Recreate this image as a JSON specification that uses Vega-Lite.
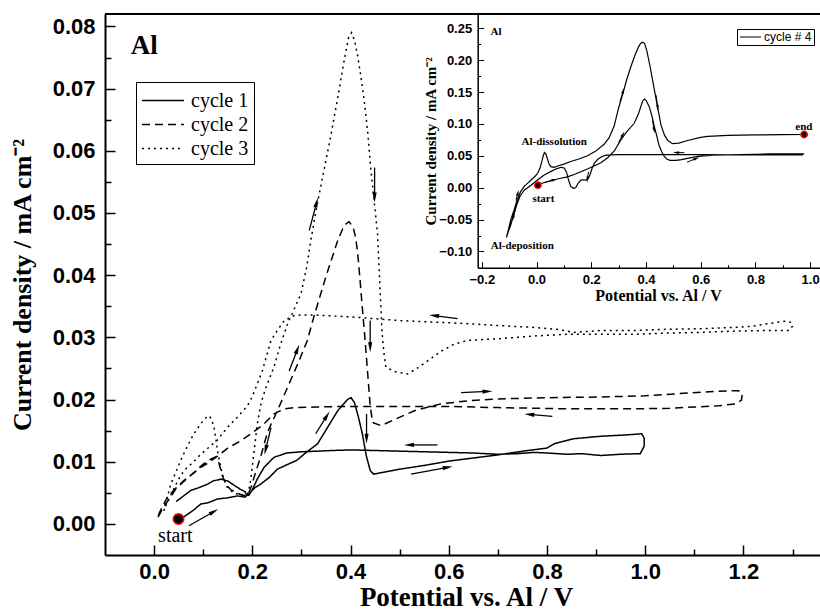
{
"$schema":"https://vega.github.io/schema/vega-lite/v6.json",
"width":715,"height":541,
"autosize":"none",
"padding":{"left":105,"top":14,"right":0,"bottom":56},
"background":"white",
"config":{"view":{"stroke":null},"axis":{"grid":false,"domainColor":"black","tickColor":"black","labelColor":"black","titleColor":"black"}},
"datasets":{
"main":[
{"s":"cycle 1","x":0.05,"y":0.0008},{"s":"cycle 1","x":0.06,"y":0.0011},{"s":"cycle 1","x":0.08,"y":0.0022},{"s":"cycle 1","x":0.095,"y":0.0032},{"s":"cycle 1","x":0.11,"y":0.0034},{"s":"cycle 1","x":0.129,"y":0.004},{"s":"cycle 1","x":0.15,"y":0.0042},{"s":"cycle 1","x":0.17,"y":0.0045},{"s":"cycle 1","x":0.185,"y":0.0043},{"s":"cycle 1","x":0.195,"y":0.005},{"s":"cycle 1","x":0.205,"y":0.0058},{"s":"cycle 1","x":0.217,"y":0.0064},{"s":"cycle 1","x":0.235,"y":0.0075},{"s":"cycle 1","x":0.251,"y":0.0088},{"s":"cycle 1","x":0.27,"y":0.0095},{"s":"cycle 1","x":0.29,"y":0.0102},{"s":"cycle 1","x":0.31,"y":0.0115},{"s":"cycle 1","x":0.333,"y":0.0129},{"s":"cycle 1","x":0.353,"y":0.0155},{"s":"cycle 1","x":0.374,"y":0.0182},{"s":"cycle 1","x":0.394,"y":0.02},{"s":"cycle 1","x":0.401,"y":0.0203},{"s":"cycle 1","x":0.408,"y":0.0195},{"s":"cycle 1","x":0.416,"y":0.0172},{"s":"cycle 1","x":0.424,"y":0.0145},{"s":"cycle 1","x":0.432,"y":0.011},{"s":"cycle 1","x":0.44,"y":0.0086},{"s":"cycle 1","x":0.447,"y":0.008},{"s":"cycle 1","x":0.46,"y":0.0082},{"s":"cycle 1","x":0.5,"y":0.0088},{"s":"cycle 1","x":0.55,"y":0.0094},{"s":"cycle 1","x":0.6,"y":0.0101},{"s":"cycle 1","x":0.65,"y":0.0106},{"s":"cycle 1","x":0.7,"y":0.0111},{"s":"cycle 1","x":0.76,"y":0.0118},{"s":"cycle 1","x":0.8,"y":0.0122},{"s":"cycle 1","x":0.815,"y":0.0129},{"s":"cycle 1","x":0.855,"y":0.0137},{"s":"cycle 1","x":0.91,"y":0.0141},{"s":"cycle 1","x":0.96,"y":0.0143},{"s":"cycle 1","x":0.993,"y":0.0145},{"s":"cycle 1","x":0.998,"y":0.0138},{"s":"cycle 1","x":0.998,"y":0.0125},{"s":"cycle 1","x":0.99,"y":0.0113},{"s":"cycle 1","x":0.95,"y":0.0112},{"s":"cycle 1","x":0.91,"y":0.011},{"s":"cycle 1","x":0.87,"y":0.0113},{"s":"cycle 1","x":0.842,"y":0.0112},{"s":"cycle 1","x":0.8,"y":0.0114},{"s":"cycle 1","x":0.774,"y":0.0115},{"s":"cycle 1","x":0.74,"y":0.0113},{"s":"cycle 1","x":0.7,"y":0.0112},{"s":"cycle 1","x":0.65,"y":0.0114},{"s":"cycle 1","x":0.6,"y":0.0115},{"s":"cycle 1","x":0.55,"y":0.0116},{"s":"cycle 1","x":0.5,"y":0.0117},{"s":"cycle 1","x":0.45,"y":0.0118},{"s":"cycle 1","x":0.4,"y":0.0119},{"s":"cycle 1","x":0.36,"y":0.0118},{"s":"cycle 1","x":0.333,"y":0.0117},{"s":"cycle 1","x":0.3,"y":0.0116},{"s":"cycle 1","x":0.27,"y":0.0114},{"s":"cycle 1","x":0.244,"y":0.0107},{"s":"cycle 1","x":0.224,"y":0.0091},{"s":"cycle 1","x":0.21,"y":0.0072},{"s":"cycle 1","x":0.2,"y":0.0055},{"s":"cycle 1","x":0.193,"y":0.0046},{"s":"cycle 1","x":0.188,"y":0.0047},{"s":"cycle 1","x":0.185,"y":0.0052},{"s":"cycle 1","x":0.177,"y":0.0055},{"s":"cycle 1","x":0.165,"y":0.0061},{"s":"cycle 1","x":0.15,"y":0.0069},{"s":"cycle 1","x":0.136,"y":0.0072},{"s":"cycle 1","x":0.12,"y":0.0069},{"s":"cycle 1","x":0.109,"y":0.0064},{"s":"cycle 1","x":0.09,"y":0.0058},{"s":"cycle 1","x":0.075,"y":0.0054},{"s":"cycle 1","x":0.055,"y":0.0042},{"s":"cycle 1","x":0.045,"y":0.0036},
{"s":"cycle 2","x":0.008,"y":0.0011},{"s":"cycle 2","x":0.02,"y":0.0028},{"s":"cycle 2","x":0.035,"y":0.0045},{"s":"cycle 2","x":0.044,"y":0.0056},{"s":"cycle 2","x":0.06,"y":0.0068},{"s":"cycle 2","x":0.08,"y":0.0082},{"s":"cycle 2","x":0.1,"y":0.0096},{"s":"cycle 2","x":0.115,"y":0.0104},{"s":"cycle 2","x":0.126,"y":0.0108},{"s":"cycle 2","x":0.132,"y":0.0098},{"s":"cycle 2","x":0.139,"y":0.0077},{"s":"cycle 2","x":0.148,"y":0.0062},{"s":"cycle 2","x":0.156,"y":0.0055},{"s":"cycle 2","x":0.168,"y":0.005},{"s":"cycle 2","x":0.18,"y":0.0046},{"s":"cycle 2","x":0.19,"y":0.0045},{"s":"cycle 2","x":0.197,"y":0.0058},{"s":"cycle 2","x":0.204,"y":0.0076},{"s":"cycle 2","x":0.217,"y":0.0108},{"s":"cycle 2","x":0.231,"y":0.0148},{"s":"cycle 2","x":0.251,"y":0.0182},{"s":"cycle 2","x":0.278,"y":0.0231},{"s":"cycle 2","x":0.295,"y":0.0262},{"s":"cycle 2","x":0.312,"y":0.0295},{"s":"cycle 2","x":0.326,"y":0.0335},{"s":"cycle 2","x":0.35,"y":0.0398},{"s":"cycle 2","x":0.374,"y":0.0456},{"s":"cycle 2","x":0.387,"y":0.048},{"s":"cycle 2","x":0.397,"y":0.0486},{"s":"cycle 2","x":0.405,"y":0.0478},{"s":"cycle 2","x":0.41,"y":0.0462},{"s":"cycle 2","x":0.414,"y":0.044},{"s":"cycle 2","x":0.418,"y":0.0405},{"s":"cycle 2","x":0.424,"y":0.0348},{"s":"cycle 2","x":0.43,"y":0.0292},{"s":"cycle 2","x":0.435,"y":0.0241},{"s":"cycle 2","x":0.44,"y":0.019},{"s":"cycle 2","x":0.445,"y":0.0163},{"s":"cycle 2","x":0.462,"y":0.0158},{"s":"cycle 2","x":0.49,"y":0.0168},{"s":"cycle 2","x":0.53,"y":0.0182},{"s":"cycle 2","x":0.584,"y":0.0193},{"s":"cycle 2","x":0.64,"y":0.0198},{"s":"cycle 2","x":0.7,"y":0.0201},{"s":"cycle 2","x":0.8,"y":0.0203},{"s":"cycle 2","x":0.9,"y":0.0204},{"s":"cycle 2","x":1.0,"y":0.0206},{"s":"cycle 2","x":1.06,"y":0.0209},{"s":"cycle 2","x":1.12,"y":0.0212},{"s":"cycle 2","x":1.17,"y":0.0214},{"s":"cycle 2","x":1.19,"y":0.0214},{"s":"cycle 2","x":1.198,"y":0.021},{"s":"cycle 2","x":1.196,"y":0.0199},{"s":"cycle 2","x":1.185,"y":0.0193},{"s":"cycle 2","x":1.15,"y":0.019},{"s":"cycle 2","x":1.1,"y":0.0188},{"s":"cycle 2","x":1.05,"y":0.0186},{"s":"cycle 2","x":0.98,"y":0.0185},{"s":"cycle 2","x":0.9,"y":0.0185},{"s":"cycle 2","x":0.84,"y":0.0185},{"s":"cycle 2","x":0.78,"y":0.0186},{"s":"cycle 2","x":0.7,"y":0.0187},{"s":"cycle 2","x":0.6,"y":0.0189},{"s":"cycle 2","x":0.5,"y":0.0189},{"s":"cycle 2","x":0.4,"y":0.0189},{"s":"cycle 2","x":0.33,"y":0.0188},{"s":"cycle 2","x":0.285,"y":0.0187},{"s":"cycle 2","x":0.265,"y":0.0185},{"s":"cycle 2","x":0.244,"y":0.0177},{"s":"cycle 2","x":0.22,"y":0.0158},{"s":"cycle 2","x":0.197,"y":0.0145},{"s":"cycle 2","x":0.177,"y":0.0134},{"s":"cycle 2","x":0.15,"y":0.0122},{"s":"cycle 2","x":0.129,"y":0.0109},{"s":"cycle 2","x":0.11,"y":0.0098},{"s":"cycle 2","x":0.095,"y":0.0091},{"s":"cycle 2","x":0.078,"y":0.008},{"s":"cycle 2","x":0.061,"y":0.007},{"s":"cycle 2","x":0.045,"y":0.0058},{"s":"cycle 2","x":0.027,"y":0.0043},{"s":"cycle 2","x":0.015,"y":0.0025},{"s":"cycle 2","x":0.007,"y":0.0011},
{"s":"cycle 3","x":0.02,"y":0.0021},{"s":"cycle 3","x":0.027,"y":0.0043},{"s":"cycle 3","x":0.034,"y":0.0064},{"s":"cycle 3","x":0.044,"y":0.0083},{"s":"cycle 3","x":0.054,"y":0.0102},{"s":"cycle 3","x":0.067,"y":0.0124},{"s":"cycle 3","x":0.081,"y":0.0145},{"s":"cycle 3","x":0.096,"y":0.0162},{"s":"cycle 3","x":0.106,"y":0.0171},{"s":"cycle 3","x":0.112,"y":0.0174},{"s":"cycle 3","x":0.117,"y":0.0168},{"s":"cycle 3","x":0.122,"y":0.0155},{"s":"cycle 3","x":0.126,"y":0.0135},{"s":"cycle 3","x":0.129,"y":0.0118},{"s":"cycle 3","x":0.134,"y":0.0098},{"s":"cycle 3","x":0.139,"y":0.008},{"s":"cycle 3","x":0.144,"y":0.0068},{"s":"cycle 3","x":0.149,"y":0.0059},{"s":"cycle 3","x":0.16,"y":0.0051},{"s":"cycle 3","x":0.17,"y":0.0048},{"s":"cycle 3","x":0.182,"y":0.0046},{"s":"cycle 3","x":0.19,"y":0.0047},{"s":"cycle 3","x":0.195,"y":0.0062},{"s":"cycle 3","x":0.199,"y":0.0085},{"s":"cycle 3","x":0.204,"y":0.012},{"s":"cycle 3","x":0.21,"y":0.016},{"s":"cycle 3","x":0.218,"y":0.0195},{"s":"cycle 3","x":0.228,"y":0.022},{"s":"cycle 3","x":0.244,"y":0.0252},{"s":"cycle 3","x":0.258,"y":0.029},{"s":"cycle 3","x":0.272,"y":0.0322},{"s":"cycle 3","x":0.285,"y":0.0345},{"s":"cycle 3","x":0.299,"y":0.037},{"s":"cycle 3","x":0.31,"y":0.041},{"s":"cycle 3","x":0.319,"y":0.0455},{"s":"cycle 3","x":0.33,"y":0.0505},{"s":"cycle 3","x":0.345,"y":0.0565},{"s":"cycle 3","x":0.36,"y":0.0625},{"s":"cycle 3","x":0.375,"y":0.069},{"s":"cycle 3","x":0.387,"y":0.0745},{"s":"cycle 3","x":0.396,"y":0.0782},{"s":"cycle 3","x":0.402,"y":0.079},{"s":"cycle 3","x":0.408,"y":0.0778},{"s":"cycle 3","x":0.414,"y":0.0755},{"s":"cycle 3","x":0.421,"y":0.072},{"s":"cycle 3","x":0.428,"y":0.068},{"s":"cycle 3","x":0.435,"y":0.063},{"s":"cycle 3","x":0.441,"y":0.0573},{"s":"cycle 3","x":0.448,"y":0.052},{"s":"cycle 3","x":0.455,"y":0.0466},{"s":"cycle 3","x":0.46,"y":0.038},{"s":"cycle 3","x":0.464,"y":0.031},{"s":"cycle 3","x":0.468,"y":0.0275},{"s":"cycle 3","x":0.472,"y":0.0252},{"s":"cycle 3","x":0.49,"y":0.0245},{"s":"cycle 3","x":0.516,"y":0.0241},{"s":"cycle 3","x":0.535,"y":0.025},{"s":"cycle 3","x":0.557,"y":0.0262},{"s":"cycle 3","x":0.585,"y":0.0278},{"s":"cycle 3","x":0.611,"y":0.0289},{"s":"cycle 3","x":0.638,"y":0.0295},{"s":"cycle 3","x":0.706,"y":0.0298},{"s":"cycle 3","x":0.77,"y":0.0302},{"s":"cycle 3","x":0.842,"y":0.0305},{"s":"cycle 3","x":0.91,"y":0.0305},{"s":"cycle 3","x":0.978,"y":0.0305},{"s":"cycle 3","x":1.05,"y":0.0307},{"s":"cycle 3","x":1.114,"y":0.0308},{"s":"cycle 3","x":1.18,"y":0.031},{"s":"cycle 3","x":1.249,"y":0.0311},{"s":"cycle 3","x":1.293,"y":0.0311},{"s":"cycle 3","x":1.3,"y":0.0318},{"s":"cycle 3","x":1.298,"y":0.0324},{"s":"cycle 3","x":1.285,"y":0.0326},{"s":"cycle 3","x":1.25,"y":0.0322},{"s":"cycle 3","x":1.22,"y":0.0318},{"s":"cycle 3","x":1.181,"y":0.0316},{"s":"cycle 3","x":1.12,"y":0.0314},{"s":"cycle 3","x":1.046,"y":0.0313},{"s":"cycle 3","x":0.98,"y":0.0311},{"s":"cycle 3","x":0.91,"y":0.0311},{"s":"cycle 3","x":0.855,"y":0.0308},{"s":"cycle 3","x":0.82,"y":0.0313},{"s":"cycle 3","x":0.774,"y":0.0316},{"s":"cycle 3","x":0.7,"y":0.0319},{"s":"cycle 3","x":0.638,"y":0.0322},{"s":"cycle 3","x":0.584,"y":0.0324},{"s":"cycle 3","x":0.502,"y":0.0327},{"s":"cycle 3","x":0.448,"y":0.033},{"s":"cycle 3","x":0.4,"y":0.0333},{"s":"cycle 3","x":0.35,"y":0.0335},{"s":"cycle 3","x":0.326,"y":0.0336},{"s":"cycle 3","x":0.3,"y":0.0336},{"s":"cycle 3","x":0.285,"y":0.0335},{"s":"cycle 3","x":0.265,"y":0.0327},{"s":"cycle 3","x":0.25,"y":0.031},{"s":"cycle 3","x":0.238,"y":0.0295},{"s":"cycle 3","x":0.22,"y":0.0245},{"s":"cycle 3","x":0.2,"y":0.0205},{"s":"cycle 3","x":0.19,"y":0.019},{"s":"cycle 3","x":0.17,"y":0.0172},{"s":"cycle 3","x":0.149,"y":0.0155},{"s":"cycle 3","x":0.129,"y":0.0135},{"s":"cycle 3","x":0.11,"y":0.0122},{"s":"cycle 3","x":0.095,"y":0.0112},{"s":"cycle 3","x":0.078,"y":0.0098},{"s":"cycle 3","x":0.061,"y":0.0086},{"s":"cycle 3","x":0.05,"y":0.0072},{"s":"cycle 3","x":0.041,"y":0.0058},{"s":"cycle 3","x":0.03,"y":0.004},{"s":"cycle 3","x":0.02,"y":0.0022}
],
"arrows":[
{"x":0.071,"y":-0.0003,"x2":0.122,"y2":0.002,"a":60},
{"x":0.238,"y":0.0155,"x2":0.227,"y2":0.0119,"a":194},
{"x":0.275,"y":0.0246,"x2":0.292,"y2":0.0281,"a":21},
{"x":0.329,"y":0.0145,"x2":0.352,"y2":0.0174,"a":32},
{"x":0.316,"y":0.0472,"x2":0.331,"y2":0.0517,"a":15},
{"x":0.449,"y":0.0573,"x2":0.449,"y2":0.0525,"a":180},
{"x":0.44,"y":0.0327,"x2":0.44,"y2":0.0284,"a":180},
{"x":0.4326,"y":0.0177,"x2":0.4326,"y2":0.0137,"a":180},
{"x":0.577,"y":0.0127,"x2":0.519,"y2":0.0127,"a":270},
{"x":0.523,"y":0.008,"x2":0.598,"y2":0.0091,"a":80},
{"x":0.625,"y":0.0211,"x2":0.679,"y2":0.0213,"a":87},
{"x":0.811,"y":0.0173,"x2":0.764,"y2":0.0176,"a":275},
{"x":0.618,"y":0.033,"x2":0.57,"y2":0.0335,"a":277}
],
"inset":[
{"s":"cycle # 4","x":0.005,"y":0.004},{"s":"cycle # 4","x":0.02,"y":0.007},{"s":"cycle # 4","x":0.05,"y":0.0105},{"s":"cycle # 4","x":0.08,"y":0.014},{"s":"cycle # 4","x":0.113,"y":0.017},{"s":"cycle # 4","x":0.14,"y":0.021},{"s":"cycle # 4","x":0.162,"y":0.025},{"s":"cycle # 4","x":0.19,"y":0.03},{"s":"cycle # 4","x":0.21,"y":0.034},{"s":"cycle # 4","x":0.235,"y":0.039},{"s":"cycle # 4","x":0.26,"y":0.047},{"s":"cycle # 4","x":0.285,"y":0.058},{"s":"cycle # 4","x":0.308,"y":0.075},{"s":"cycle # 4","x":0.33,"y":0.088},{"s":"cycle # 4","x":0.357,"y":0.101},{"s":"cycle # 4","x":0.372,"y":0.115},{"s":"cycle # 4","x":0.381,"y":0.127},{"s":"cycle # 4","x":0.388,"y":0.136},{"s":"cycle # 4","x":0.394,"y":0.139},{"s":"cycle # 4","x":0.4,"y":0.137},{"s":"cycle # 4","x":0.412,"y":0.127},{"s":"cycle # 4","x":0.422,"y":0.112},{"s":"cycle # 4","x":0.43,"y":0.097},{"s":"cycle # 4","x":0.44,"y":0.08},{"s":"cycle # 4","x":0.448,"y":0.066},{"s":"cycle # 4","x":0.458,"y":0.056},{"s":"cycle # 4","x":0.467,"y":0.049},{"s":"cycle # 4","x":0.476,"y":0.045},{"s":"cycle # 4","x":0.488,"y":0.043},{"s":"cycle # 4","x":0.51,"y":0.043},{"s":"cycle # 4","x":0.53,"y":0.044},{"s":"cycle # 4","x":0.552,"y":0.046},{"s":"cycle # 4","x":0.59,"y":0.049},{"s":"cycle # 4","x":0.65,"y":0.051},{"s":"cycle # 4","x":0.75,"y":0.052},{"s":"cycle # 4","x":0.85,"y":0.053},{"s":"cycle # 4","x":0.95,"y":0.053},{"s":"cycle # 4","x":0.975,"y":0.053},{"s":"cycle # 4","x":0.972,"y":0.0515},{"s":"cycle # 4","x":0.9,"y":0.0515},{"s":"cycle # 4","x":0.8,"y":0.0515},{"s":"cycle # 4","x":0.7,"y":0.0515},{"s":"cycle # 4","x":0.6,"y":0.052},{"s":"cycle # 4","x":0.5,"y":0.052},{"s":"cycle # 4","x":0.4,"y":0.052},{"s":"cycle # 4","x":0.3,"y":0.052},{"s":"cycle # 4","x":0.27,"y":0.0515},{"s":"cycle # 4","x":0.255,"y":0.051},{"s":"cycle # 4","x":0.24,"y":0.049},{"s":"cycle # 4","x":0.225,"y":0.045},{"s":"cycle # 4","x":0.212,"y":0.039},{"s":"cycle # 4","x":0.203,"y":0.03},{"s":"cycle # 4","x":0.195,"y":0.02},{"s":"cycle # 4","x":0.19,"y":0.015},{"s":"cycle # 4","x":0.182,"y":0.012},{"s":"cycle # 4","x":0.172,"y":0.0125},{"s":"cycle # 4","x":0.162,"y":0.012},{"s":"cycle # 4","x":0.152,"y":0.007},{"s":"cycle # 4","x":0.143,"y":0.0},{"s":"cycle # 4","x":0.135,"y":-0.001},{"s":"cycle # 4","x":0.125,"y":0.002},{"s":"cycle # 4","x":0.117,"y":0.012},{"s":"cycle # 4","x":0.11,"y":0.024},{"s":"cycle # 4","x":0.101,"y":0.031},{"s":"cycle # 4","x":0.09,"y":0.032},{"s":"cycle # 4","x":0.075,"y":0.03},{"s":"cycle # 4","x":0.055,"y":0.026},{"s":"cycle # 4","x":0.028,"y":0.02},{"s":"cycle # 4","x":0.0,"y":0.011},{"s":"cycle # 4","x":-0.02,"y":0.004},{"s":"cycle # 4","x":-0.045,"y":-0.004},{"s":"cycle # 4","x":-0.06,"y":-0.013},{"s":"cycle # 4","x":-0.07,"y":-0.024},{"s":"cycle # 4","x":-0.082,"y":-0.04},{"s":"cycle # 4","x":-0.094,"y":-0.058},{"s":"cycle # 4","x":-0.104,"y":-0.07},{"s":"cycle # 4","x":-0.11,"y":-0.078},{"s":"cycle # 4","x":-0.104,"y":-0.068},{"s":"cycle # 4","x":-0.094,"y":-0.05},{"s":"cycle # 4","x":-0.082,"y":-0.035},{"s":"cycle # 4","x":-0.07,"y":-0.018},{"s":"cycle # 4","x":-0.058,"y":-0.006},{"s":"cycle # 4","x":-0.045,"y":0.002},{"s":"cycle # 4","x":-0.03,"y":0.008},{"s":"cycle # 4","x":-0.02,"y":0.012},{"s":"cycle # 4","x":-0.005,"y":0.018},{"s":"cycle # 4","x":0.004,"y":0.0226},{"s":"cycle # 4","x":0.012,"y":0.03},{"s":"cycle # 4","x":0.02,"y":0.042},{"s":"cycle # 4","x":0.025,"y":0.051},{"s":"cycle # 4","x":0.029,"y":0.055},{"s":"cycle # 4","x":0.034,"y":0.053},{"s":"cycle # 4","x":0.04,"y":0.045},{"s":"cycle # 4","x":0.046,"y":0.037},{"s":"cycle # 4","x":0.052,"y":0.033},{"s":"cycle # 4","x":0.065,"y":0.032},{"s":"cycle # 4","x":0.077,"y":0.034},{"s":"cycle # 4","x":0.1,"y":0.037},{"s":"cycle # 4","x":0.125,"y":0.041},{"s":"cycle # 4","x":0.155,"y":0.045},{"s":"cycle # 4","x":0.186,"y":0.05},{"s":"cycle # 4","x":0.215,"y":0.057},{"s":"cycle # 4","x":0.247,"y":0.068},{"s":"cycle # 4","x":0.265,"y":0.078},{"s":"cycle # 4","x":0.284,"y":0.097},{"s":"cycle # 4","x":0.3,"y":0.125},{"s":"cycle # 4","x":0.314,"y":0.145},{"s":"cycle # 4","x":0.33,"y":0.17},{"s":"cycle # 4","x":0.345,"y":0.19},{"s":"cycle # 4","x":0.36,"y":0.208},{"s":"cycle # 4","x":0.372,"y":0.22},{"s":"cycle # 4","x":0.38,"y":0.226},{"s":"cycle # 4","x":0.388,"y":0.228},{"s":"cycle # 4","x":0.395,"y":0.226},{"s":"cycle # 4","x":0.403,"y":0.215},{"s":"cycle # 4","x":0.415,"y":0.19},{"s":"cycle # 4","x":0.43,"y":0.155},{"s":"cycle # 4","x":0.443,"y":0.125},{"s":"cycle # 4","x":0.455,"y":0.098},{"s":"cycle # 4","x":0.468,"y":0.082},{"s":"cycle # 4","x":0.48,"y":0.074},{"s":"cycle # 4","x":0.497,"y":0.069},{"s":"cycle # 4","x":0.52,"y":0.07},{"s":"cycle # 4","x":0.552,"y":0.074},{"s":"cycle # 4","x":0.6,"y":0.079},{"s":"cycle # 4","x":0.625,"y":0.0805},{"s":"cycle # 4","x":0.7,"y":0.082},{"s":"cycle # 4","x":0.8,"y":0.0828},{"s":"cycle # 4","x":0.9,"y":0.0832},{"s":"cycle # 4","x":0.978,"y":0.0834}
],
"insetArrows":[
{"x":-0.075,"y":-0.02,"x2":-0.068,"y2":-0.008,"a":14},
{"x":-0.078,"y":-0.035,"x2":-0.086,"y2":-0.048,"a":195},
{"x":0.03,"y":0.0085,"x2":0.065,"y2":0.0125,"a":75},
{"x":0.19,"y":0.025,"x2":0.186,"y2":0.013,"a":188},
{"x":0.305,"y":0.135,"x2":0.317,"y2":0.152,"a":17},
{"x":0.3,"y":0.071,"x2":0.316,"y2":0.084,"a":28},
{"x":0.437,"y":0.145,"x2":0.443,"y2":0.125,"a":173},
{"x":0.424,"y":0.105,"x2":0.43,"y2":0.09,"a":171},
{"x":0.54,"y":0.055,"x2":0.51,"y2":0.055,"a":270},
{"x":0.55,"y":0.04,"x2":0.585,"y2":0.046,"a":68}
]
},
"layer":[
{"data":{"name":"main"},
"mark":{"type":"line","strokeWidth":1.5,"color":"black"},
"encoding":{
"x":{"field":"x","type":"quantitative","scale":{"domain":[-0.1,1.356],"nice":false,"zero":false},
"axis":{"orient":"bottom","title":"Potential vs. Al / V","values":[0,0.2,0.4,0.6,0.8,1.0,1.2],"format":".1f",
"tickSize":-10,
"tickWidth":1.5,"domainWidth":2,"labelPadding":16,"labelFont":"Liberation Sans","labelFontWeight":"bold","labelFontSize":22,
"titleFont":"Liberation Serif","titleFontSize":27,"titleFontWeight":"bold","titleX":361,"titleY":50,"titleBaseline":"alphabetic"}},
"y":{"field":"y","type":"quantitative","scale":{"domain":[-0.005,0.082],"nice":false,"zero":false},
"axis":{"orient":"left","title":"Current density / mA cm⁻²","values":[0,0.01,0.02,0.03,0.04,0.05,0.06,0.07,0.08],"format":".2f",
"tickSize":-10,
"tickWidth":1.5,"domainWidth":2,"labelPadding":20,"labelFont":"Liberation Sans","labelFontWeight":"bold","labelFontSize":22,
"titleFont":"Liberation Serif","titleFontSize":26,"titleFontWeight":"bold","titleX":-75,"titleBaseline":"alphabetic"}},
"strokeDash":{"field":"s","type":"nominal","scale":{"domain":["cycle 1","cycle 2","cycle 3"],"range":[[1,0],[8,5],[2,4]]},
"legend":{"title":null,"orient":"none","legendX":31,"legendY":68,"strokeColor":"black","fillColor":"white","padding":5,
"labelFont":"Liberation Serif","labelFontSize":20,"labelColor":"black","symbolType":"M-1,0H2.36","symbolSize":625,"symbolStrokeWidth":1.5,"symbolStrokeColor":"black","rowPadding":0,"labelOffset":23}},
"order":{"value":null}
}},
{"data":{"values":[{}]},"mark":{"type":"rule","strokeWidth":2,"color":"black"},
"encoding":{"y":{"datum":0.082,"type":"quantitative","scale":{"domain":[-0.005,0.082],"nice":false,"zero":false},"axis":null}}},
{"data":{"name":"arrows"},"mark":{"type":"rule","strokeWidth":1.3,"color":"black"},
"encoding":{"x":{"field":"x","type":"quantitative","scale":{"domain":[-0.1,1.356],"nice":false,"zero":false},
"axis":{"orient":"bottom","values":[0.1,0.3,0.5,0.7,0.9,1.1,1.3],"tickSize":-6,"tickWidth":1.5,"labels":false,"domain":false,"title":null}},
"y":{"field":"y","type":"quantitative","scale":{"domain":[-0.005,0.082],"nice":false,"zero":false},
"axis":{"orient":"left","values":[0.005,0.015,0.025,0.035,0.045,0.055,0.065,0.075],"tickSize":-6,"tickWidth":1.5,"labels":false,"domain":false,"title":null}},
"x2":{"field":"x2"},"y2":{"field":"y2"}}},
{"data":{"name":"arrows"},"mark":{"type":"point","shape":"M0,-1L0.42,1L-0.42,1Z","filled":true,"color":"black","opacity":1,"size":100},
"encoding":{"x":{"field":"x2","type":"quantitative","scale":{"domain":[-0.1,1.356],"nice":false,"zero":false},"axis":null},"y":{"field":"y2","type":"quantitative","scale":{"domain":[-0.005,0.082],"nice":false,"zero":false},"axis":null},"angle":{"field":"a","type":"quantitative","scale":null}}},
{"data":{"values":[{"x":0.0497,"y":0.0008}]},"mark":{"type":"point","filled":true,"fill":"black","stroke":"red","strokeWidth":1.5,"opacity":1,"size":110},
"encoding":{"x":{"field":"x","type":"quantitative","scale":{"domain":[-0.1,1.356],"nice":false,"zero":false},"axis":null},"y":{"field":"y","type":"quantitative","scale":{"domain":[-0.005,0.082],"nice":false,"zero":false},"axis":null}}},
{"data":{"values":[{"x":-0.0475,"y":0.0756,"t":"Al"}]},"mark":{"type":"text","font":"Liberation Serif","fontWeight":"bold","fontSize":27,"align":"left","baseline":"alphabetic","color":"black"},
"encoding":{"x":{"field":"x","type":"quantitative","scale":{"domain":[-0.1,1.356],"nice":false,"zero":false},"axis":null},"y":{"field":"y","type":"quantitative","scale":{"domain":[-0.005,0.082],"nice":false,"zero":false},"axis":null},"text":{"field":"t"}}},
{"data":{"values":[{"x":0.0432,"y":-0.00296,"t":"start"}]},"mark":{"type":"text","font":"Liberation Serif","fontSize":20,"align":"center","baseline":"alphabetic","color":"black"},
"encoding":{"x":{"field":"x","type":"quantitative","scale":{"domain":[-0.1,1.356],"nice":false,"zero":false},"axis":null},"y":{"field":"y","type":"quantitative","scale":{"domain":[-0.005,0.082],"nice":false,"zero":false},"axis":null},"text":{"field":"t"}}},
{"data":{"name":"inset"},
"mark":{"type":"line","strokeWidth":1.2},
"encoding":{
"x":{"field":"x","type":"quantitative","scale":{"domain":[-0.215,1.1],"range":[372.7,732.5],"nice":false,"zero":false},
"axis":{"orient":"bottom","offset":-287.3,"title":"Potential vs. Al / V","values":[-0.2,0,0.2,0.4,0.6,0.8,1.0],"format":".1f",
"tickSize":-6,
"tickWidth":1,"domainWidth":1.5,"labelPadding":12,"labelFont":"Liberation Sans","labelFontWeight":"bold","labelFontSize":13,
"titleFont":"Liberation Serif","titleFontSize":16,"titleFontWeight":"bold","titleX":553,"titleY":33,"titleBaseline":"alphabetic"}},
"y":{"field":"y","type":"quantitative","scale":{"domain":[-0.1254,0.2723],"range":[253.7,0],"nice":false,"zero":false},
"axis":{"orient":"left","offset":-372.7,"title":"Current density / mA cm⁻²","values":[-0.1,-0.05,0,0.05,0.1,0.15,0.2,0.25],"format":".2f",
"tickSize":-6,
"tickWidth":1,"domainWidth":1.5,"labelPadding":12,"labelFont":"Liberation Sans","labelFontWeight":"bold","labelFontSize":13,
"titleFont":"Liberation Serif","titleFontSize":15,"titleFontWeight":"bold","titleX":-42,"titleBaseline":"alphabetic"}},
"color":{"field":"s","type":"nominal","scale":{"domain":["cycle # 4"],"range":["black"]},
"legend":{"title":null,"orient":"none","legendX":632,"legendY":15,"strokeColor":"black","fillColor":"white","padding":2,
"labelFont":"Liberation Sans","labelFontSize":12,"labelColor":"black","symbolType":"M-1,0H3.2","symbolSize":100,"symbolStrokeWidth":1,"rowPadding":0,"labelOffset":13}},
"order":{"value":null}
}},
{"data":{"name":"insetArrows"},"mark":{"type":"rule","strokeWidth":1,"color":"black"},
"encoding":{"x":{"field":"x","type":"quantitative","scale":{"domain":[-0.215,1.1],"range":[372.7,732.5],"nice":false,"zero":false},
"axis":{"orient":"bottom","offset":-287.3,"values":[-0.1,0.1,0.3,0.5,0.7,0.9],"tickSize":-3,"tickWidth":1,"labels":false,"domain":false,"title":null}},
"y":{"field":"y","type":"quantitative","scale":{"domain":[-0.1254,0.2723],"range":[253.7,0],"nice":false,"zero":false},
"axis":{"orient":"left","offset":-372.7,"values":[-0.075,-0.025,0.025,0.075,0.125,0.175,0.225],"tickSize":-3,"tickWidth":1,"labels":false,"domain":false,"title":null}},
"x2":{"field":"x2"},"y2":{"field":"y2"}}},
{"data":{"name":"insetArrows"},"mark":{"type":"point","shape":"M0,-1L0.45,1L-0.45,1Z","filled":true,"color":"black","opacity":1,"size":36},
"encoding":{"x":{"field":"x2","type":"quantitative","scale":{"domain":[-0.215,1.1],"range":[372.7,732.5],"nice":false,"zero":false},"axis":null},"y":{"field":"y2","type":"quantitative","scale":{"domain":[-0.1254,0.2723],"range":[253.7,0],"nice":false,"zero":false},"axis":null},"angle":{"field":"a","type":"quantitative","scale":null}}},
{"data":{"values":[{"x":0.005,"y":0.004},{"x":0.978,"y":0.0834}]},"mark":{"type":"point","filled":true,"fill":"black","stroke":"red","strokeWidth":1.5,"opacity":1,"size":40},
"encoding":{"x":{"field":"x","type":"quantitative","scale":{"domain":[-0.215,1.1],"range":[372.7,732.5],"nice":false,"zero":false},"axis":null},"y":{"field":"y","type":"quantitative","scale":{"domain":[-0.1254,0.2723],"range":[253.7,0],"nice":false,"zero":false},"axis":null}}},
{"data":{"values":[{"x":-0.168,"y":0.239,"t":"Al"},{"x":-0.055,"y":0.067,"t":"Al-dissolution"},{"x":-0.015,"y":-0.022,"t":"start"},{"x":-0.167,"y":-0.096,"t":"Al-deposition"},{"x":0.946,"y":0.09,"t":"end"}]},
"mark":{"type":"text","font":"Liberation Serif","fontWeight":"bold","fontSize":11,"align":"left","baseline":"alphabetic","color":"black"},
"encoding":{"x":{"field":"x","type":"quantitative","scale":{"domain":[-0.215,1.1],"range":[372.7,732.5],"nice":false,"zero":false},"axis":null},"y":{"field":"y","type":"quantitative","scale":{"domain":[-0.1254,0.2723],"range":[253.7,0],"nice":false,"zero":false},"axis":null},"text":{"field":"t"}}}
],
"resolve":{"scale":{"x":"independent","y":"independent"}}
}
